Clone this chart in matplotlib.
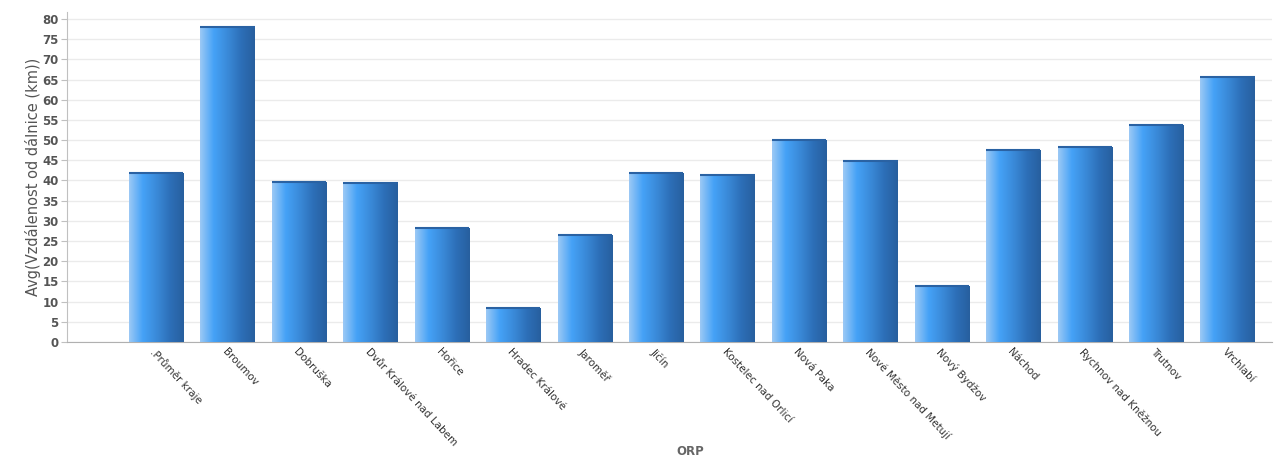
import numpy as np
import matplotlib.pyplot as plt
from matplotlib.colors import LinearSegmentedColormap

# ORP categories and average distance to motorway (km)
orp = [".Průměr kraje", "Broumov", "Dobruška", "Dvůr Králové nad Labem", "Hořice",
       "Hradec Králové", "Jaroměř", "Jičín", "Kostelec nad Orlicí", "Nová Paka",
       "Nové Město nad Metují", "Nový Bydžov", "Náchod", "Rychnov nad Kněžnou",
       "Trutnov", "Vrchlabí"]
avg_km = [41.8, 77.9, 39.7, 39.4, 28.3, 8.4, 26.6, 41.8, 41.3, 50.1,
          44.8, 13.8, 47.5, 48.3, 53.8, 65.6]
yticks = list(range(0, 81, 5))

grad = LinearSegmentedColormap.from_list("bar", ["#9cc9f5", "#45a2f7", "#3a8ad9", "#2d6fb8", "#275f9e"])

fig = plt.figure(figsize=(12.75, 4.65), dpi=100)
ax = fig.add_axes([0.0525, 0.2645, 0.945, 0.7095])

x = np.arange(len(orp))
bars = ax.bar(x, avg_km, width=0.76, color="none", edgecolor="none", zorder=3)
g = np.linspace(0, 1, 256).reshape(1, -1)
for b in bars:
    x0, w, h = b.get_x(), b.get_width(), b.get_height()
    im = ax.imshow(g, cmap=grad, aspect="auto", extent=[x0, x0 + w, 0, h],
                   zorder=3, interpolation="bilinear")
    im.set_clip_path(b)
    # darker top edge
    ax.plot([x0, x0 + w], [h, h], color="#2a62a3", lw=1.5, zorder=4, solid_capstyle="butt")

ax.set_xlim(-1.25, 15.62)
ax.set_ylim(0, 81.7)
ax.set_yticks(yticks)
ax.set_yticklabels([str(t) for t in yticks], fontsize=8.5, fontweight="bold", color="#555555")
ax.yaxis.grid(True, color="#ebebeb", lw=1, zorder=0)
ax.set_axisbelow(True)
ax.tick_params(axis="y", length=4, color="#c0c0c0", pad=2)
ax.tick_params(axis="x", length=0)
ax.set_xticks(x)
ax.set_xticklabels(orp, rotation=-47, ha="left", va="top", rotation_mode="anchor",
                   fontsize=7.5, color="#333333")
for s in ["top", "right"]:
    ax.spines[s].set_visible(False)
ax.spines["left"].set_color("#c0c0c0")
ax.spines["bottom"].set_color("#b0b0b0")

ax.set_ylabel("Avg(Vzdálenost od dálnice (km))", fontsize=10.5, color="#555555", labelpad=1)
fig.text(0.541, 0.022, "ORP", fontsize=8.5, color="#666666", fontweight="bold", ha="center")

fig.savefig("out.png", dpi=100)
